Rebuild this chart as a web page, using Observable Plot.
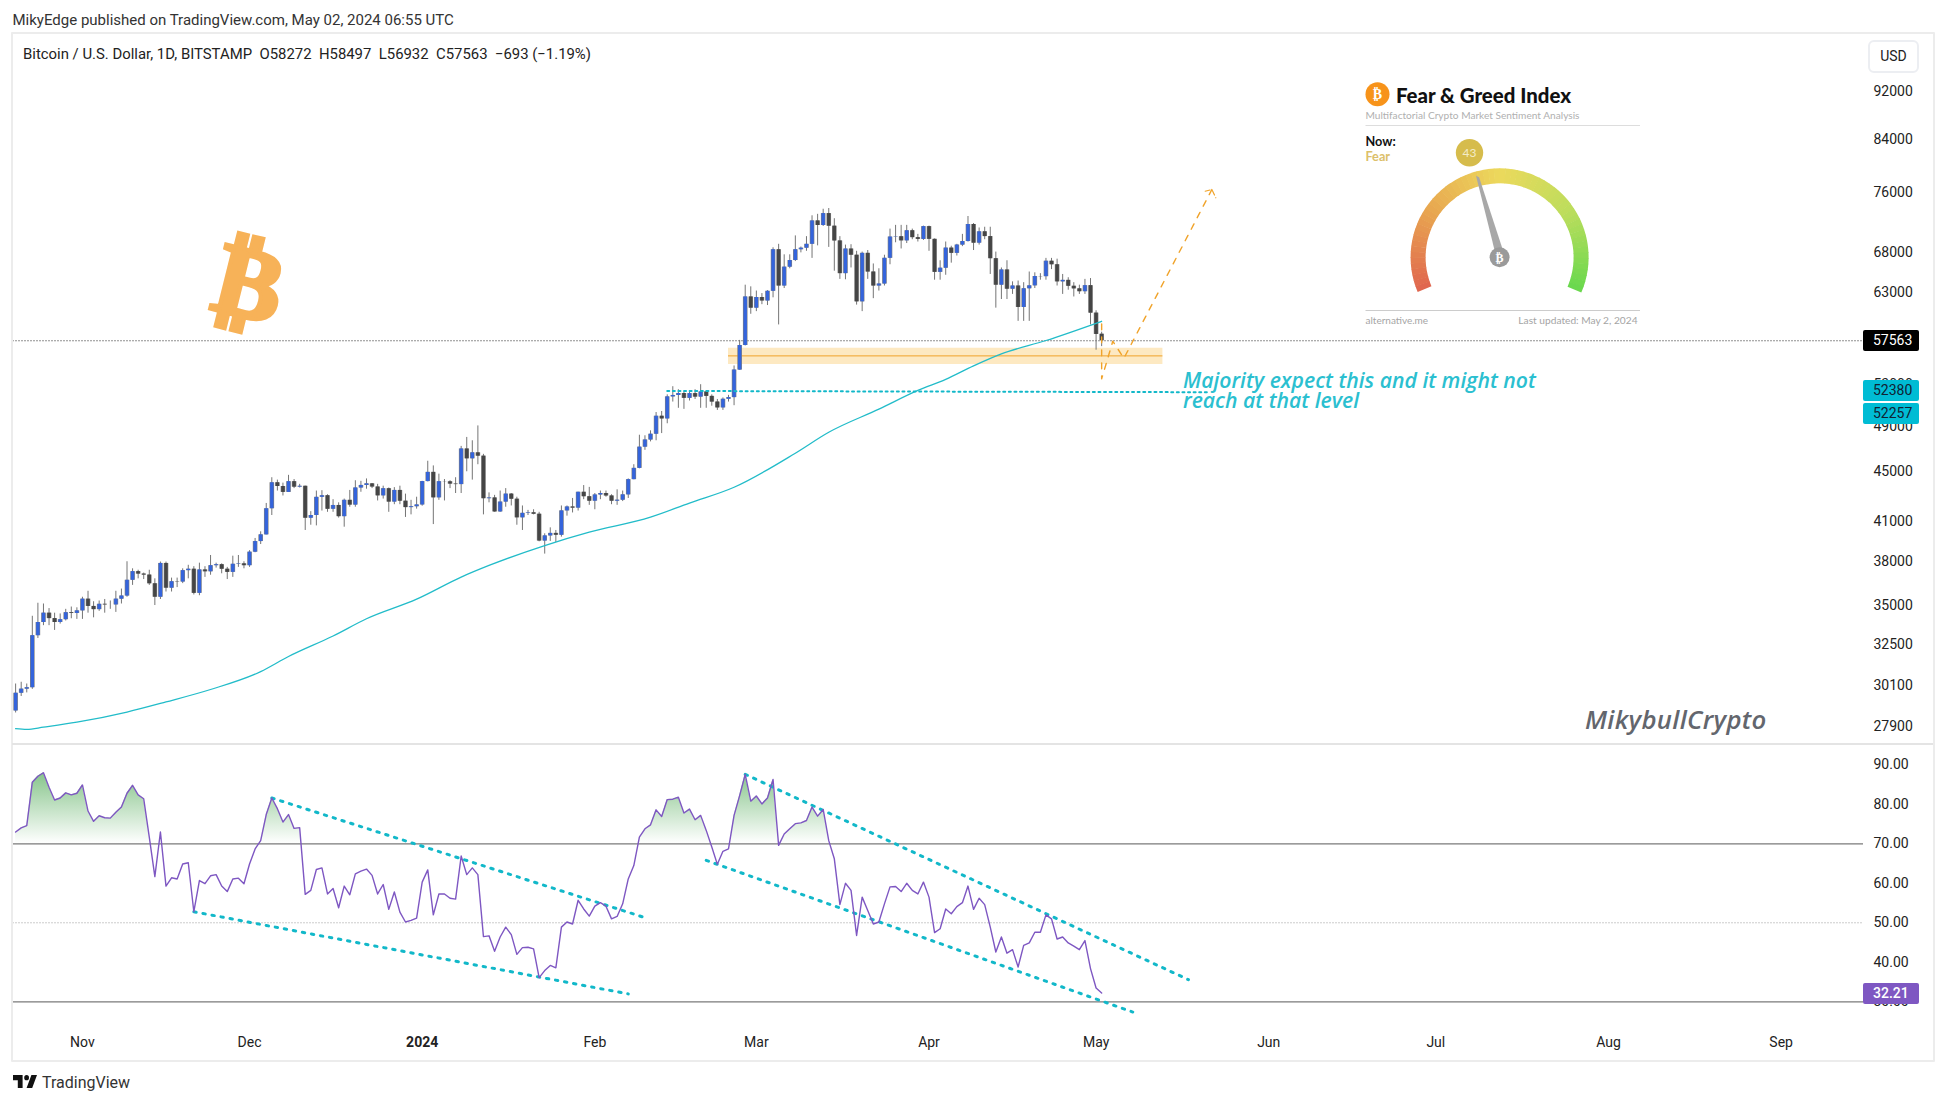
<!DOCTYPE html>
<html><head><meta charset="utf-8">
<script src="https://cdn.jsdelivr.net/npm/d3@7"></script>
<script src="https://cdn.jsdelivr.net/npm/@observablehq/plot@0.6"></script>
<style>
html,body{margin:0;padding:0;background:#fff;overflow:hidden}
#root{position:relative;width:1946px;height:1104px;font-family:Roboto,sans-serif;color:#222}
#root svg{position:absolute}
.abs{position:absolute;white-space:pre}
.tag{position:absolute;left:1863px;width:56px;height:21px;line-height:21px;text-align:left;padding-left:10px;box-sizing:border-box;font-size:14px;border-radius:2px}
</style></head><body><div id="root"></div>
<script>
const firstDay = "2023-10-20";
const opens = [
28710,29680,29910,29990,33070,33900,34500,34150,33900,34080,34530,34480,
34650,35420,34940,34730,35080,35040,35040,35420,35630,36700,37300,37130,37060,36460,35550,37880,36160,36600,36580,37370,37470,35810,37420,37290,37720,37790,37470,37250,37820,37850,
37720,38690,39470,39970,41980,44080,43770,43290,44170,43720,43790,41240,41450,42890,43020,41940,42240,41360,42650,42270,43650,43860,43990,43730,43010,43590,42510,43450,42580,42070,42140,
42280,44180,44950,42850,44170,44160,43970,43930,46970,46110,46630,46340,42780,42840,41730,42510,43150,42740,41270,41620,41660,41550,39510,39890,40080,39940,41810,42120,42030,43300,42940,
42580,43080,43200,43000,42580,42660,43090,44340,45290,47130,47770,48290,49950,49700,51800,51940,52130,51660,52120,51780,52280,51850,51300,50740,51570,51730,54480,57050,62500,
61200,62440,62030,63170,68300,63800,66100,66930,68300,68500,69000,72100,71480,73100,71390,69440,65300,68390,67600,61930,67840,65500,63800,64040,67210,69950,69990,69450,70780,69870,69640,
71330,69650,65460,65970,68510,67840,68900,69360,71620,69150,70640,70010,67160,63900,65750,63420,63800,61280,63470,63820,64950,64930,66840,66400,64300,64480,63770,63460,63120,63840,
60630,58272];
const highs = [
30200,30300,30200,34300,35150,35100,34800,34500,34450,34750,34900,34850,
35550,35950,35250,35300,35400,35300,35950,36100,38000,37500,37400,37200,37400,36800,37980,37980,36850,36850,37500,37750,37650,37900,37650,38450,37900,37850,37600,38400,38450,38000,
38800,39700,40200,42400,44500,44300,44050,44700,44350,43950,43800,41750,43400,43430,43100,42700,42450,42750,43450,44250,44200,44400,44020,43950,43800,43650,43680,43800,43150,42650,42900,
44200,45900,45500,44800,44350,44250,44500,47200,48000,47700,49050,46500,43250,43050,43400,43600,43200,42900,42200,41850,41900,41700,40050,40500,40300,42200,42200,42800,43300,43850,43700,
43200,43400,43400,43100,43500,43400,44400,45600,48200,48150,48600,50300,50400,52000,52800,52500,52300,52350,52500,53000,52400,52000,51550,51700,51950,54900,57600,63900,63700,
63200,62900,63250,68550,69000,67650,67650,70100,68650,70000,72800,73000,73700,73800,72400,70000,68900,68950,68100,68000,68200,66500,65900,67600,71000,71500,71500,71500,71000,70300,71400,
71400,69700,66900,69300,68750,69000,70300,72700,71750,71150,71250,71250,68000,66000,66900,64300,64400,64200,65500,65400,65300,67200,67200,67100,65200,64800,64200,63900,64600,64700,
60900,58497];
const lows = [
28600,29500,29700,29900,32900,33700,33700,33400,33800,34000,34140,34100,
34100,34500,34200,34620,34500,34750,34550,35100,35550,36350,36800,36750,36350,35000,35400,35900,35900,36200,36470,36800,35700,35650,36900,37050,37550,37150,36750,36900,37600,37500,
37600,38650,39250,39970,41450,43400,43000,43290,43600,43650,40300,40700,40650,41800,41700,41700,41250,40550,42100,42100,43300,43550,43600,42600,42750,41700,42300,42300,41300,41500,41950,
42180,44150,40750,42650,42600,43600,43200,43200,45000,44300,45600,41500,42450,41700,41700,42100,42200,40700,40300,41450,41500,39450,38550,39480,39400,39800,41400,41650,41800,42700,42250,
41900,42700,42900,42300,42250,42550,42800,44330,45250,46850,47600,47700,48350,49250,51300,50700,50600,51400,51550,50700,50700,50900,50500,50500,51300,50950,54450,57000,60500,
60800,61600,61500,62400,59300,63500,65900,66800,67900,68100,67200,68800,71350,68600,65600,64600,64550,66000,61550,60800,64600,62300,63200,63800,66400,69200,68400,69100,69600,69300,69500,
68100,64500,64500,65100,66600,67500,68700,69300,68200,68900,69600,65200,61200,62200,62200,62800,59700,59700,59700,63500,64500,64500,65800,63800,62800,63300,62500,62800,62800,59300,
56550,56932];
const closes = [
29680,29910,29990,33070,33900,34500,34150,33900,34080,34530,34480,34650,
35420,34940,34730,35080,35040,35040,35420,35630,36700,37300,37130,37060,36460,35550,37880,36160,36600,36580,37370,37470,35810,37420,37290,37720,37790,37470,37250,37820,37850,37720,
38690,39470,39970,41980,44080,43770,43290,44170,43720,43790,41240,41450,42890,43020,41940,42240,41360,42650,42270,43650,43860,43990,43730,43010,43590,42510,43450,42580,42070,42140,42280,
44180,44950,42850,44170,44160,43970,43930,46970,46110,46630,46340,42780,42840,41730,42510,43150,42740,41270,41620,41660,41550,39510,39890,40080,39940,41810,42120,42030,43300,42940,42580,
43080,43200,43000,42580,42660,43090,44340,45290,47130,47770,48290,49950,49700,51800,51940,52130,51660,52120,51780,52280,51850,51300,50740,51570,51730,54480,57050,62500,61200,
62440,62030,63170,68300,63800,66100,66930,68300,68500,69000,72100,71480,73100,71390,69440,65300,68390,67600,61930,67840,65500,63800,64040,67210,69950,69990,69450,70780,69870,69640,71330,
69650,65460,65970,68510,67840,68900,69360,71620,69150,70640,70010,67160,63900,65750,63420,63800,61280,63470,63820,64950,64930,66840,66400,64300,64480,63770,63460,63120,63840,60630,
58250,57563];
const rsiValues = [
73,74.05,74.6,85.6,87.1,88,84.3,81.1,81.6,82.9,82.4,82.8,
84.9,78.3,75.7,77.1,76.6,76.5,78,79.3,82.8,84.8,82.4,81.4,71.7,61.7,73,59.3,61.4,61.1,64.9,65.2,52.8,60.7,59.9,61.9,62.2,59.3,57.9,61.1,61.3,59.9,
64.9,68.7,70.8,77.4,81.6,78.9,75.5,77.4,73.9,74.1,57.2,58.2,63.5,63.9,57.3,58.7,53.8,59.3,57.1,62.4,63.1,63.6,62,57.3,59.7,53.4,57.8,52.7,50.2,50.6,51.2,
60.3,63.4,52,57.3,57.3,56.2,56,66.9,62.2,63.9,62.2,46.5,46.7,42.8,46.4,48.9,47,42,43.7,43.8,43.4,36.1,37.9,39.2,38.6,48.9,50.2,49.7,55.7,53.5,51.7,
54.2,55.1,54.2,51,51.6,54.8,61.1,64.5,71.7,73.8,74.8,78.6,76.9,81.2,81.3,81.8,77.8,78.8,76.1,77.2,73.4,69.2,64.8,68.1,68.7,77.2,82.2,87.6,80.8,
82.1,80.1,81.6,86.3,69.6,72.5,73.8,75.1,75.3,75.9,79.3,77,78.7,70.8,66.2,54.6,60,58.2,46.8,56.5,53.1,49.7,50.2,54.8,59.1,59.2,57.9,60,58.2,57.3,60.3,
56.5,47.5,48.5,53.5,52.3,54.1,55.1,59.3,53.4,56.2,54.6,48.9,42.6,46.4,42.3,43.2,38.8,44.3,44.9,47.6,47.6,52,51,45.9,46.4,44.9,44.1,43.2,45.5,38.4,
33.5,32.21];
const emaDates = ["2023-10-20","2023-10-22","2023-10-25","2023-10-31","2023-11-09","2023-11-16","2023-11-24","2023-12-03","2023-12-08","2023-12-16","2023-12-22","2023-12-31","2024-01-08","2024-01-13","2024-01-23","2024-01-31","2024-02-11","2024-02-18","2024-02-26","2024-03-08","2024-03-14","2024-03-23","2024-03-30","2024-04-04","2024-04-09","2024-04-14","2024-04-22","2024-05-02"];
const emaValues = [27770,27730,27850,28110,28650,29200,29890,30910,31800,33050,34140,35420,36920,37735,39177,40170,41320,42430,43710,46600,48470,50620,52430,53540,54910,56160,57590,59710];

const priceTicks = [27900,30100,32500,35000,38000,41000,45000,49000,53000,63000,68000,76000,84000,92000];
const rsiTicks = [30,40,50,60,70,80,90];
const monthTicks = ["2023-11-01","2023-12-01","2024-02-01","2024-03-01","2024-04-01","2024-05-01","2024-06-01","2024-07-01","2024-08-01","2024-09-01"];
const monthLabels = ["Nov","Dec","Feb","Mar","Apr","May","Jun","Jul","Aug","Sep"];
const yearTicks = ["2024-01-01"];

const zoneDates = ["2024-02-25","2024-05-13"];
const zoneLow = 55050, zoneHigh = 56760, zoneMid = 55950;
const lastClose = 57563;
const levelLine = [["2024-02-14",52380],["2024-05-21",52257]];
const forecastPath = [["2024-05-02",59420],["2024-05-02",53590],["2024-05-04",57510],["2024-05-06",55700],["2024-05-21T19:00Z",76480]];
const arrowHead = [["2024-05-20T14:00Z",76240],["2024-05-21T19:00Z",76480],["2024-05-22T12:00Z",75300]];
const rsiTrend1 = [["2023-12-05",81.6],["2024-02-10",51.3]];
const rsiTrend2 = [["2023-11-21",52.8],["2024-02-07",32.0]];
const rsiTrend3 = [["2024-02-28",87.6],["2024-05-17T14:00Z",35.6]];
const rsiTrend4 = [["2024-02-21",65.8],["2024-05-07T14:00Z",27.4]];

const d = s => new Date(s);
const pts = a => a.map(([t,v]) => ({t:d(t),v}));
const days = d3.utcDay.range(d(firstDay), d("2024-05-03"));
for (const [n,a] of Object.entries({opens,highs,lows,closes,rsiValues})) if (a.length!==days.length) throw new Error(n+" "+a.length+" vs "+days.length);
const candles = days.map((t,i)=>({t,o:opens[i],h:highs[i],l:lows[i],c:closes[i],rsi:rsiValues[i]}));
const ema = emaDates.map((t,i)=>({t:d(t),v:emaValues[i]}));
const xDomain = [d("2023-10-19T12:43Z"), d("2024-09-15T19:00Z")];
const W = 1946;
const fmt = {fontFamily:"Roboto,sans-serif",fontSize:"14px",background:"transparent",overflow:"visible"};
const TEAL = "#12b8c9", ORANGE = "#f0a32a", BLUE="#3464dc", DARK="#454545", WICK="#757575";

const price = Plot.plot({
  width:W, height:710, marginTop:0, marginBottom:0, marginLeft:12.5, marginRight:83, style:fmt,
  x:{type:"utc",domain:xDomain,axis:null},
  y:{type:"log",domain:[27006,102540],axis:null},
  marks:[
    Plot.rect([{}],{x1:()=>d(zoneDates[0]),x2:()=>d(zoneDates[1]),y1:()=>zoneLow,y2:()=>zoneHigh,fill:"#fde9c2"}),
    Plot.ruleY([zoneMid],{x1:d(zoneDates[0]),x2:d(zoneDates[1]),stroke:ORANGE,strokeWidth:1}),
    Plot.ruleY([lastClose],{stroke:"#222",strokeWidth:1,strokeDasharray:"1 2"}),
    Plot.ruleX(candles,{x:"t",y1:"l",y2:"h",stroke:WICK,strokeWidth:1}),
    Plot.ruleX(candles,{x:"t",y1:"o",y2:"c",stroke:"#808080",strokeWidth:4.6}),
    Plot.ruleX(candles,{filter:e=>e.c>=e.o,x:"t",y1:"o",y2:"c",stroke:BLUE,strokeWidth:3.4}),
    Plot.ruleX(candles,{filter:e=>e.c<e.o,x:"t",y1:"o",y2:"c",stroke:DARK,strokeWidth:3.4}),
    Plot.line(ema,{x:"t",y:"v",stroke:"#22bcc9",strokeWidth:1.3,curve:"monotone-x"}),
    Plot.line(pts(levelLine),{x:"t",y:"v",stroke:TEAL,strokeWidth:2,strokeDasharray:"2 3.6"}),
    Plot.line(pts(forecastPath),{x:"t",y:"v",stroke:ORANGE,strokeWidth:1.4,strokeDasharray:"6 7"}),
    Plot.line(pts(arrowHead),{x:"t",y:"v",stroke:ORANGE,strokeWidth:1.2,strokeDasharray:"5 3"}),
    Plot.axisY(priceTicks,{anchor:"right",tickSize:0,tickPadding:10,label:null,tickFormat:e=>String(e),textAnchor:"start",fill:"#222"})
  ]
});

const rsi = Plot.plot({
  width:W, height:317, marginTop:0, marginBottom:37, marginLeft:12.5, marginRight:83, style:fmt,
  x:{type:"utc",domain:xDomain,axis:null},
  y:{domain:[24.5,95.4],axis:null},
  marks:[
    (index,{y})=>{
      const ns="http://www.w3.org/2000/svg";
      const defs=document.createElementNS(ns,"defs");
      const g=document.createElementNS(ns,"linearGradient");
      g.setAttribute("id","rsiGrad");g.setAttribute("gradientUnits","userSpaceOnUse");
      g.setAttribute("x1",0);g.setAttribute("x2",0);g.setAttribute("y1",y(88));g.setAttribute("y2",y(70));
      [[0,"#86c48a",1],[1,"#86c48a",0]].forEach(([o,c,a])=>{const s=document.createElementNS(ns,"stop");s.setAttribute("offset",o);s.setAttribute("stop-color",c);s.setAttribute("stop-opacity",a);g.appendChild(s);});
      defs.appendChild(g);return defs;
    },
    Plot.areaY(candles,{x:"t",y1:()=>70,y2:"rsi",fill:"url(#rsiGrad)"}),
    Plot.ruleY([70,30],{stroke:"#7a7a7a",strokeWidth:1.2}),
    Plot.ruleY([50],{stroke:"#999",strokeWidth:1,strokeDasharray:"1 2"}),
    ...[rsiTrend1,rsiTrend2,rsiTrend3,rsiTrend4].map(a=>Plot.line(pts(a),{x:"t",y:"v",stroke:TEAL,strokeWidth:3,strokeDasharray:"2.4 6.8"})),
    Plot.line(candles,{x:"t",y:"rsi",stroke:"#7e57c2",strokeWidth:1.4}),
    Plot.axisY(rsiTicks,{anchor:"right",tickSize:0,tickPadding:10,label:null,tickFormat:e=>e.toFixed(2),textAnchor:"start",fill:"#222"}),
    Plot.axisX(monthTicks.map(d),{anchor:"bottom",tickSize:0,tickPadding:14,label:null,tickFormat:e=>monthLabels[monthTicks.findIndex(m=>+d(m)===+e)],fill:"#222"}),
    Plot.axisX(yearTicks.map(d),{anchor:"bottom",tickSize:0,tickPadding:14,label:null,tickFormat:()=>"2024",fontWeight:"bold",fill:"#222"})
  ]
});

const root = document.getElementById("root");
price.style.left="0";price.style.top="33px";
rsi.style.left="0";rsi.style.top="743px";
root.append(price,rsi);

function html(cls,style,text){const e=document.createElement("div");e.className=cls;e.style.cssText=style;e.textContent=text;root.append(e);return e;}
// frame
html("abs","left:11px;top:32px;width:1920px;height:1026px;border:2px solid #ececec;border-radius:1px","");
html("abs","left:12px;top:743px;width:1921px;height:1.5px;background:#e4e4e4","");
// header
html("abs","left:12.5px;top:11px;font-size:15px;color:#333","MikyEdge published on TradingView.com, May 02, 2024 06:55 UTC");
html("abs","left:23px;top:45px;font-size:14.9px;color:#222","Bitcoin / U.S. Dollar, 1D, BITSTAMP  O58272  H58497  L56932  C57563  \u2212693 (\u22121.19%)");
html("abs","left:1868px;top:40px;width:47px;height:29px;line-height:29px;border:2px solid #eceef2;border-radius:6px;text-align:center;font-size:14px;color:#222","USD");
// annotations
html("abs","left:1183px;top:370px;font:italic 600 21.2px/20px 'Open Sans',sans-serif;color:#2bbfd0","Majority expect this and it might not\nreach at that level");
html("abs","left:1585px;top:703px;font:italic 600 25.7px/34px 'Open Sans',sans-serif;color:#63666d;letter-spacing:.3px","MikybullCrypto");
// last value tags
const py = v => 33 + price.scale("y").apply(v);
const ry = v => 743 + rsi.scale("y").apply(v);
html("tag",`top:${py(57563)-10.5}px;background:#000;color:#fff`,"57563");
html("tag",`top:${py(52380)-10.5}px;background:#00bcd4;color:#123`,"52380");
html("tag",`top:${py(52257)+11}px;background:#00bcd4;color:#123`,"52257");
html("tag",`top:${ry(32.21)-10}px;background:#7e57c2;color:#fff;font-weight:500`,"32.21");
// TradingView footer
html("abs","left:42px;top:1073px;font-size:16px;color:#333","TradingView");

// overlay: Bitcoin glyph and Fear & Greed widget
const ov = d3.select(root).append("svg").attr("width",W).attr("height",1104).style("left",0).style("top",0).style("pointer-events","none");
ov.append("text").attr("transform","translate(250,281) rotate(14)").attr("text-anchor","middle").attr("dy","0.36em")
  .attr("font-family","'DejaVu Sans'").attr("font-weight","bold").attr("font-size",101).attr("fill","#f7b258").attr("stroke","#f7b258").attr("stroke-width",4).attr("stroke-linejoin","miter").text("\u20bf");
ov.append("path").attr("transform","translate(11.4,1069.8) scale(.8,.87)").attr("d","M14 6H2v6h6v9h6V6Zm12 15h-7l6-15h7l-6 15Zm-7-9a3 3 0 1 0 0-6 3 3 0 0 0 0 6Z").attr("fill","#111");

const txt=(x,y,t,o={})=>ov.append("text").attr("x",x).attr("y",y).attr("dy","0.35em").attr("font-family",o.f||"Lato,sans-serif").attr("font-size",o.s||10).attr("font-weight",o.w||400).attr("fill",o.c||"#aaa").attr("text-anchor",o.a||"start").text(t);
ov.append("circle").attr("cx",1377.5).attr("cy",94.3).attr("r",12).attr("fill","#f7931a");
txt(1377.5,94.3,"\u20bf",{s:14,c:"#fff",a:"middle",w:700,f:"'DejaVu Sans'"});
txt(1396,95.5,"Fear & Greed Index",{s:20.4,w:900,c:"#111"});
txt(1365.5,115,"Multifactorial Crypto Market Sentiment Analysis",{s:10.15,c:"#b0b0b0"});
ov.append("rect").attr("x",1365.5).attr("y",125).attr("width",274.5).attr("height",1).attr("fill","#ddd");
txt(1365.5,141.7,"Now:",{s:12.7,w:700,c:"#111"});
txt(1365.5,156.7,"Fear",{s:12.7,w:700,c:"#dcc06a"});
ov.append("rect").attr("x",1365.5).attr("y",310).attr("width",274.5).attr("height",1).attr("fill","#ccc");
txt(1365.5,320.7,"alternative.me",{s:10,c:"#a5a5a5"});
txt(1637.6,320.7,"Last updated: May 2, 2024",{s:10.2,c:"#a5a5a5",a:"end"});
const gauge=ov.append("g").attr("transform","translate(1499.6,257.3)");
const gaugeColor=d3.scaleLinear().domain([0,.25,.5,.75,1]).range(["#e0654f","#e8a650","#ecd95c","#bcdd5c","#68d84e"]);
const N=60,span=113*Math.PI/180;
d3.range(N).forEach(i=>{
  gauge.append("path").attr("fill",gaugeColor((i+.5)/N))
    .attr("d",d3.arc()({innerRadius:74,outerRadius:89,startAngle:-span+2*span*i/N,endAngle:-span+2*span*(i+1.1)/N}));
});
gauge.append("path").attr("d","M-23.6,-81.6 L-20.5,-80 L4,-5 L-4,-3 Z").attr("fill","#a8a8a8");
gauge.append("circle").attr("r",10).attr("fill","#9a9a9a");
gauge.append("text").attr("dy","0.36em").attr("text-anchor","middle").attr("font-family","'DejaVu Sans'").attr("font-weight","bold").attr("font-size",12).attr("fill","#fff").text("\u20bf");
ov.append("circle").attr("cx",1469.5).attr("cy",152.7).attr("r",13.7).attr("fill","#d6bc4c");
txt(1469.5,152.7,"43",{s:12,c:"#f3ecc8",a:"middle"});
</script></body></html>
